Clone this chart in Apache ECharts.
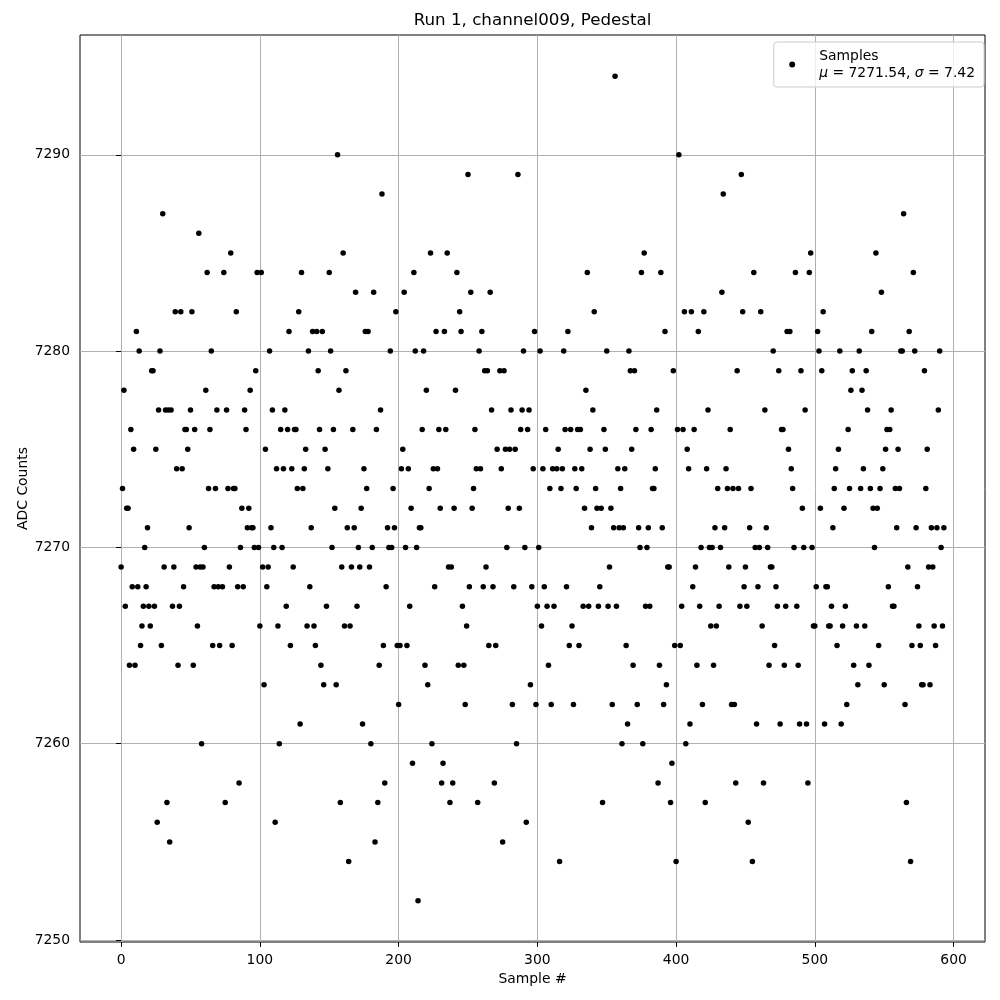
<!DOCTYPE html>
<html><head><meta charset="utf-8">
<script src="https://cdn.jsdelivr.net/npm/echarts@6/dist/echarts.min.js"></script>
<style>html,body{margin:0;padding:0;background:#fff}#c{width:1000px;height:1000px}</style>
</head><body><div id="c"></div>
<script>
const titleText = 'Run 1, channel009, Pedestal';
const seriesName = 'Samples';
const muText = '7271.54';
const sigmaText = '7.42';
const xAxisName = 'Sample #';
const yAxisName = 'ADC Counts';
const xTicks = [0, 100, 200, 300, 400, 500, 600];
const yTicks = [7250, 7260, 7270, 7280, 7290];
// ADC value per sample index (null = not readable)
const adcValues = [
7269,7273,7278,7267,7272,7272,7264,7276,7268,7275,
7264,7281,7268,7280,7265,7266,7267,7270,7268,7271,
7267,7266,7279,7279,7267,7275,7256,7277,7280,7265,
7287,7269,7277,7257,7277,7255,7277,7267,7269,7282,
7274,7264,7267,7282,7274,7268,7276,7276,7275,7271,
7277,7282,7264,7276,7269,7266,7286,7269,7260,7269,
7270,7278,7284,7273,7276,7280,7265,7268,7273,7277,
7268,7265,null,7268,7284,7257,7277,7273,7269,7285,
7265,7273,7273,7282,7268,7258,7270,7272,7268,7277,
7276,7271,7272,7278,7271,7271,7270,7279,7284,7270,
7266,7284,7269,7263,7275,7268,7269,7280,7271,7277,
7270,7256,7274,7266,7260,7276,7270,7274,7277,7267,
7276,7281,7265,7274,7269,7276,7276,7273,7282,7261,
7284,7273,7274,7275,7266,7280,7268,7271,7281,7266,
7265,7281,7279,7276,7264,7281,7263,7275,7267,7274,
7284,7280,7270,7276,7272,7263,7290,7278,7257,7269,
7285,7266,7279,7271,7254,7266,7269,7276,7271,7283,
7267,7270,7269,7272,7261,7274,7281,7273,7281,7269,
7260,7270,7283,7255,7276,7257,7264,7277,7288,7265,
7258,7268,7271,7270,7280,7270,7273,7271,7282,7265,
7262,7265,7274,7275,7283,7270,7265,7274,7267,7272,
7259,7284,7280,7270,7252,7271,7271,7276,7280,7264,
7278,7263,7273,7285,7260,7274,7268,7281,7274,7276,
7272,7258,7259,7281,7276,7285,7269,7257,7269,7258,
7272,7278,7284,7264,7282,7281,7267,7264,7262,7266,
7289,7268,7283,7272,7273,7276,7274,7257,7280,7274,
7281,7268,7279,7269,7279,7265,7283,7277,7268,7258,
7265,7275,null,7279,7274,7255,7279,7275,7270,7272,
7275,7277,7262,7268,7275,7260,7289,7272,7276,7277,
7280,7270,7256,7276,7277,7263,7268,7274,7281,7262,
7267,7270,7280,7266,7274,7268,7276,7267,7264,7273,
7262,7274,7267,null,7274,7275,7254,7273,7274,7280,
7276,7268,7281,7265,7276,7266,7262,7274,7273,7276,
7265,7276,7274,7267,7272,7278,7284,7267,7275,7271,
7277,7282,7273,7272,7267,7268,7272,7257,7276,7275,
7280,7267,7269,7272,7262,7271,7294,7267,7274,7271,
7273,7260,7271,7274,7265,7261,7280,7279,7275,7264,
7279,7276,7262,7271,7270,7284,7260,7285,7267,7270,
7271,7267,7276,7273,7273,7274,7277,7258,7264,7284,
7271,7262,7281,7263,7269,7269,7257,7259,7279,7265,
7254,7276,7290,7265,7267,7276,7282,7260,7275,7274,
7261,7282,7268,7276,7269,7264,7281,7267,7270,7262,
7282,7257,7274,7277,7270,7266,7270,7264,7271,7266,
7273,7267,7270,7283,7288,7271,7274,7273,7269,7276,
7262,7273,7262,7258,7279,7273,7267,7289,7282,7268,
7269,7267,7256,7271,7273,7254,7284,7270,7261,7268,
7270,7282,7266,7258,7277,7271,7270,7264,7269,7269,
7280,7265,7268,7267,7279,7261,7276,7276,7264,7267,
7281,7275,7281,7274,7273,7270,7284,7267,7264,7261,
7279,7272,7270,7277,7261,7258,7284,7285,7270,7266,
7266,7268,7281,7280,7272,7279,7282,7261,7268,7268,
7266,7266,7267,7271,7273,7274,7265,7275,7280,7261,
7266,7272,7267,7262,7276,7273,7278,7279,7264,null,
7266,7263,7280,7273,7278,7274,7266,7279,7277,7264,
7273,7281,7272,7270,7285,7272,7265,7273,7283,7274,
7263,7275,7276,7268,7276,7277,7267,7267,7273,7271,
7275,7273,7280,7280,7287,7262,7257,7269,7281,7254,
7265,7284,7280,7271,7268,7266,7265,7263,7263,7279,
7273,7275,7269,7263,7271,7269,7266,7265,7271,7277,
7280,7270,7266,7271
];
const points = adcValues.map((v, i) => [i, v]).filter(p => p[1] !== null);

const FONT = 'DejaVu Sans';
const chart = echarts.init(document.getElementById('c'), null, {renderer: 'canvas'});
chart.setOption({
  animation: false,
  backgroundColor: '#ffffff',
  title: {
    text: titleText, left: 532.5, top: 12, textAlign: 'center', padding: 0,
    textStyle: {fontFamily: FONT, fontSize: 16.7, fontWeight: 'normal', color: '#000'}
  },
  grid: {left: 80, right: 15, top: 35, bottom: 58, show: true, borderColor: '#000', borderWidth: 1, backgroundColor: 'transparent'},
  legend: {
    right: 16, top: 42, orient: 'vertical',
    padding: [5.5, 9, 5.5, 15.5],
    itemWidth: 6, itemHeight: 6, icon: 'circle',
    borderColor: '#cccccc', borderWidth: 1, borderRadius: 3,
    backgroundColor: 'rgba(255,255,255,0.8)',
    data: [seriesName],
    formatter: () => seriesName + '\n{m|\u03bc} = ' + muText + ', {m|\u03c3} = ' + sigmaText,
    textStyle: {
      fontFamily: FONT, fontSize: 13.9, color: '#000', lineHeight: 17, padding: [0, 0, 0, 19],
      rich: {m: {fontFamily: FONT, fontSize: 13.9, fontStyle: 'italic', color: '#000', lineHeight: 17}}
    }
  },
  xAxis: {
    type: 'value', min: -29.65, max: 622.65,
    name: xAxisName, nameLocation: 'middle', nameGap: 28,
    nameTextStyle: {fontFamily: FONT, fontSize: 13.9, color: '#000'},
    axisLine: {show: false},
    axisTick: {show: true, customValues: xTicks, length: 5, lineStyle: {color: '#000', width: 1}},
    axisLabel: {customValues: xTicks, margin: 11, fontFamily: FONT, fontSize: 13.9, color: '#000',
      formatter: v => String(v)},
    splitLine: {show: true, lineStyle: {color: '#b0b0b0', width: 1}}
  },
  yAxis: {
    type: 'value', min: 7249.9, max: 7296.1,
    name: yAxisName, nameLocation: 'middle', nameGap: 50, nameMoveOverlap: false,
    nameTextStyle: {fontFamily: FONT, fontSize: 13.9, color: '#000'},
    axisLine: {show: false},
    axisTick: {show: true, customValues: yTicks, length: 5, lineStyle: {color: '#000', width: 1}},
    axisLabel: {customValues: yTicks, margin: 10, fontFamily: FONT, fontSize: 13.9, color: '#000',
      formatter: v => String(v)},
    splitLine: {show: true, lineStyle: {color: '#b0b0b0', width: 1}}
  },
  series: [{
    name: seriesName, type: 'scatter', data: points,
    symbol: 'circle', symbolSize: 5.5,
    itemStyle: {color: '#000', opacity: 1}
  }]
});
</script></body></html>
